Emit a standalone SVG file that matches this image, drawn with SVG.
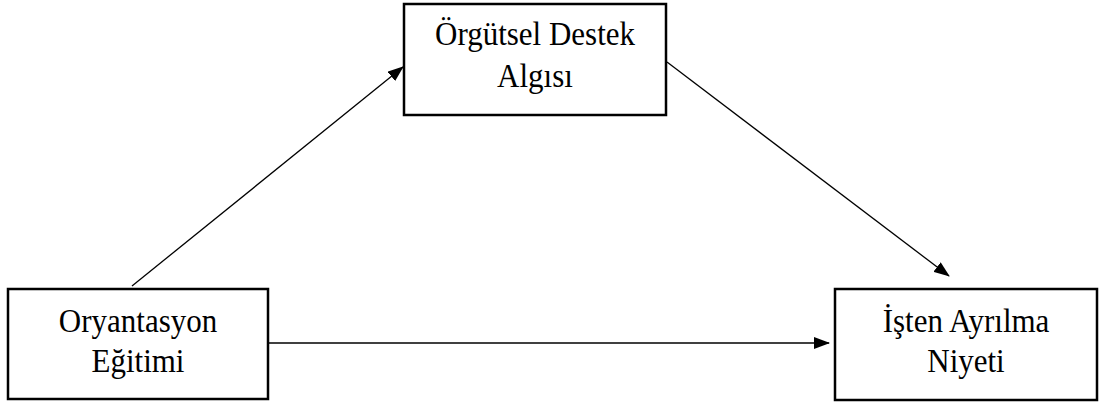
<svg xmlns="http://www.w3.org/2000/svg" width="1102" height="405" viewBox="0 0 1102 405">
  <style>
    .box { fill: #fff; stroke: #000; stroke-width: 2.5; }
    .label { font-family: "Liberation Serif", "Times New Roman", serif; font-size: 31px; fill: #000; text-anchor: middle; }
    .edge { stroke: #000; stroke-width: 1.3; fill: none; marker-end: url(#arrow); }
  </style>
  <defs>
    <marker id="arrow" markerWidth="16" markerHeight="12" refX="15" refY="6" orient="auto" markerUnits="userSpaceOnUse">
      <path d="M0,0 L16,6 L0,12 Z" fill="#000"/>
    </marker>
  </defs>
  <rect width="1102" height="405" fill="#fff"/>

  <g id="connectors">
    <line class="edge" x1="132" y1="286" x2="403" y2="67"/>
    <line class="edge" x1="667" y1="62" x2="949" y2="276"/>
    <line class="edge" x1="268" y1="343" x2="829" y2="343"/>
  </g>

  <!-- labels are set slightly tall: scale(1,1.1) about each baseline -->
  <g id="orgutsel-destek">
    <rect class="box" x="404" y="4" width="262" height="111"/>
    <text class="label" transform="translate(535 45) scale(1 1.1)">Örgütsel Destek</text>
    <text class="label" transform="translate(535 87) scale(1 1.1)">Algısı</text>
  </g>

  <g id="oryantasyon">
    <rect class="box" x="8" y="289" width="260" height="110"/>
    <text class="label" transform="translate(138 332) scale(1 1.1)">Oryantasyon</text>
    <text class="label" transform="translate(138 372) scale(1 1.1)">Eğitimi</text>
  </g>

  <g id="isten-ayrilma">
    <rect class="box" x="835" y="289" width="262" height="111"/>
    <text class="label" transform="translate(966 332) scale(1 1.1)">İşten Ayrılma</text>
    <text class="label" transform="translate(966 372) scale(1 1.1)">Niyeti</text>
  </g>
</svg>
